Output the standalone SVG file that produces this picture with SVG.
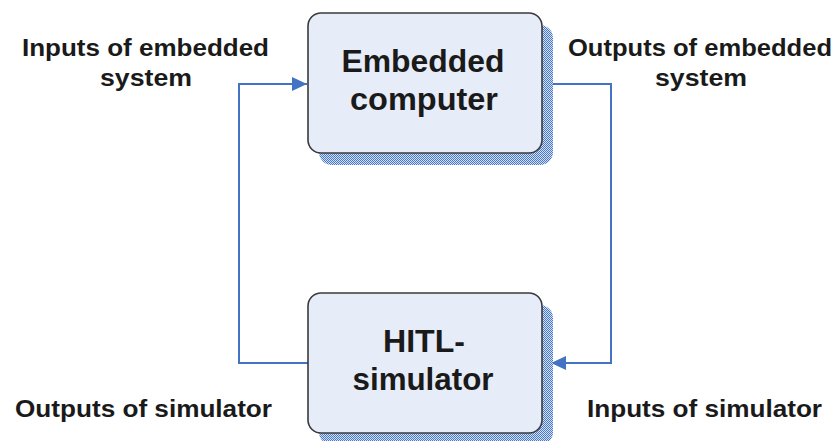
<svg xmlns="http://www.w3.org/2000/svg" width="839" height="441" viewBox="0 0 839 441">
<style>
.box{fill:#E6ECF8;stroke:#3a3a3a;stroke-width:1.6}
.shadow{fill:url(#dots)}
.title{font-family:"Liberation Sans",Arial,sans-serif;font-weight:bold;font-size:31px;fill:#1a1a1a;text-anchor:middle}
.lbl{font-family:"Liberation Sans",Arial,sans-serif;font-weight:bold;font-size:23px;fill:#1a1a1a}
.conn{fill:none;stroke:#4472C4;stroke-width:2}
</style>
<defs>
<pattern id="dots" width="2" height="2" patternUnits="userSpaceOnUse">
<rect width="2" height="2" fill="#D4E0F4"/>
<rect width="1" height="1" fill="#4A78C8"/>
<rect x="1" y="1" width="1" height="1" fill="#4A78C8"/>
</pattern>
<marker id="arr" markerUnits="userSpaceOnUse" markerWidth="16" markerHeight="14" refX="15" refY="7" orient="auto">
<path d="M0,0 L15,7 L0,14 Z" fill="#4472C4"/>
</marker>
</defs>
<g id="connectors">
<path class="conn" d="M308,363 H239 V84 H307" marker-end="url(#arr)"/>
<path class="conn" d="M542,84 H611 V363 H551" marker-end="url(#arr)"/>
</g>
<g id="embedded">
<rect class="shadow" x="319" y="25" width="234" height="140" rx="13"/>
<rect class="box" x="308" y="13" width="234" height="140" rx="13"/>
<text class="title" x="423" y="72" textLength="163" lengthAdjust="spacingAndGlyphs">Embedded</text>
<text class="title" x="424" y="110" textLength="148" lengthAdjust="spacingAndGlyphs">computer</text>
</g>
<g id="hitl">
<rect class="shadow" x="319" y="305" width="234" height="140" rx="13"/>
<rect class="box" x="308" y="293" width="234" height="140" rx="13"/>
<text class="title" x="424" y="352" textLength="82" lengthAdjust="spacingAndGlyphs">HITL-</text>
<text class="title" x="423" y="390" textLength="141" lengthAdjust="spacingAndGlyphs">simulator</text>
</g>
<g id="labels">
<text class="lbl" x="22" y="56" textLength="247" lengthAdjust="spacingAndGlyphs">Inputs of embedded</text>
<text class="lbl" x="100" y="86" textLength="92" lengthAdjust="spacingAndGlyphs">system</text>
<text class="lbl" x="568" y="56" textLength="264" lengthAdjust="spacingAndGlyphs">Outputs of embedded</text>
<text class="lbl" x="655" y="86" textLength="92" lengthAdjust="spacingAndGlyphs">system</text>
<text class="lbl" x="15" y="417" textLength="257" lengthAdjust="spacingAndGlyphs">Outputs of simulator</text>
<text class="lbl" x="587" y="417" textLength="235" lengthAdjust="spacingAndGlyphs">Inputs of simulator</text>
</g>
</svg>
